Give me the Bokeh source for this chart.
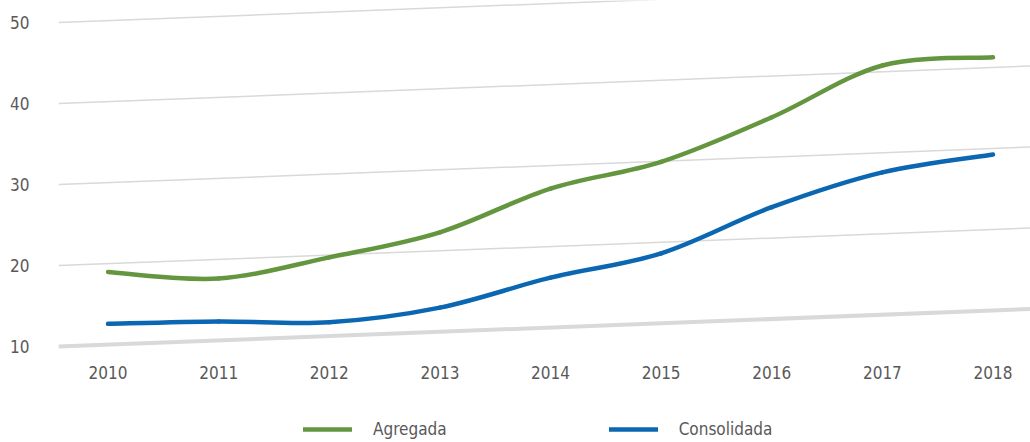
from bokeh.plotting import figure
from bokeh.models import FixedTicker, Legend, LegendItem, ColumnDataSource
from bokeh.embed import file_html
from bokeh.resources import INLINE

years = [2010, 2011, 2012, 2013, 2014, 2015, 2016, 2017, 2018]
agregada = [19.2, 18.4, 21.0, 24.1, 29.5, 32.8, 38.3, 44.7, 45.7]
consolidada = [12.8, 13.1, 13.0, 14.8, 18.5, 21.5, 27.2, 31.5, 33.7]
y_ticks = [10, 20, 30, 40, 50]
series_names = ["Agregada", "Consolidada"]

GREEN = "#64963f"
BLUE = "#0b67b2"
GRID = "#d9d9d9"
TEXT = "#595959"
FONT = "DejaVu Sans Condensed"

x0, x1 = 2009.552, 2018.339
p = figure(width=1030, height=442, output_backend="svg", toolbar_location=None,
           x_range=(x0, x1), y_range=(-1.85, 52.72),
           min_border_left=58, min_border_right=0, min_border_top=0,
           min_border_bottom=0)
p.outline_line_color = None
p.grid.visible = False
p.background_fill_color = "white"

# skewed gridlines (as in the reference)
skew = 4.63
gsrc = ColumnDataSource(dict(
    x0=[x0] * len(y_ticks), x1=[x1] * len(y_ticks),
    y0=y_ticks, y1=[t + skew for t in y_ticks],
    w=[4 if t == y_ticks[0] else 1.5 for t in y_ticks]))
p.segment("x0", "y0", "x1", "y1", source=gsrc, line_color=GRID, line_width="w")


def smooth(xs, ys, color):
    n = len(xs)
    bx0, by0, bx1, by1, cx0, cy0, cx1, cy1 = [], [], [], [], [], [], [], []
    for i in range(n - 1):
        xa, ya = xs[i], ys[i]
        xb, yb = xs[i + 1], ys[i + 1]
        xp, yp = (xs[i - 1], ys[i - 1]) if i > 0 else (xa, ya)
        xn, yn = (xs[i + 2], ys[i + 2]) if i + 2 < n else (xb, yb)
        bx0.append(xa); by0.append(ya); bx1.append(xb); by1.append(yb)
        cx0.append(xa + (xb - xp) / 6); cy0.append(ya + (yb - yp) / 6)
        cx1.append(xb - (xn - xa) / 6); cy1.append(yb - (yn - ya) / 6)
    src = ColumnDataSource(dict(x0=bx0, y0=by0, x1=bx1, y1=by1,
                                cx0=cx0, cy0=cy0, cx1=cx1, cy1=cy1))
    return p.bezier("x0", "y0", "x1", "y1", "cx0", "cy0", "cx1", "cy1",
                    source=src, line_color=color, line_width=4.5,
                    line_cap="round")


r1 = smooth(years, agregada, GREEN)
r2 = smooth(years, consolidada, BLUE)

p.xaxis.ticker = FixedTicker(ticks=years)
p.yaxis.ticker = FixedTicker(ticks=y_ticks)
for ax in (p.xaxis, p.yaxis):
    ax.axis_line_color = None
    ax.major_tick_line_color = None
    ax.minor_tick_line_color = None
    ax.major_tick_out = 0
    ax.major_tick_in = 0
    ax.major_label_text_font = FONT
    ax.major_label_text_font_size = "17px"
    ax.major_label_text_color = TEXT
p.yaxis.major_label_standoff = 29
p.xaxis.major_label_standoff = 10
p.xaxis.fixed_location = 8.89

legend = Legend(items=[LegendItem(label=series_names[0], renderers=[r1]),
                       LegendItem(label=series_names[1], renderers=[r2])],
                orientation="horizontal", location=(245, 3),
                border_line_color=None, background_fill_alpha=0,
                glyph_width=49, glyph_height=20, label_standoff=21,
                spacing=162, padding=0, margin=0,
                label_text_font=FONT, label_text_font_size="17px",
                label_text_color=TEXT)
p.add_layout(legend, "center")

open("out.html", "w").write(file_html(p, INLINE))
